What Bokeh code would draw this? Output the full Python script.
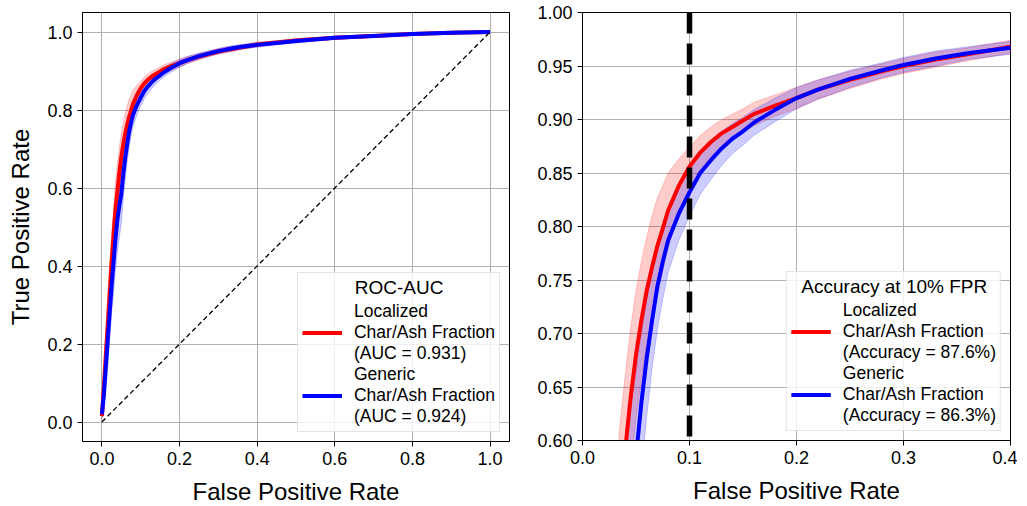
from bokeh.plotting import figure
from bokeh.layouts import row
from bokeh.models import (FixedTicker, NumeralTickFormatter, Legend, LegendItem,
                          Range1d, ColumnDataSource, Span)
from bokeh.embed import file_html
from bokeh.resources import INLINE

# ---------------- data ----------------
fpr = [0.0, 0.005, 0.01, 0.015, 0.02, 0.025, 0.03, 0.035, 0.04, 0.045, 0.05, 0.055,
       0.06, 0.065, 0.07, 0.075, 0.08, 0.09, 0.1, 0.11, 0.12, 0.13, 0.14, 0.15, 0.16,
       0.18, 0.2, 0.22, 0.25, 0.28, 0.3, 0.33, 0.36, 0.4, 0.45, 0.5, 0.6, 0.7, 0.8, 0.9, 1.0]
tpr_localized = [0.015, 0.09, 0.17, 0.25, 0.33, 0.41, 0.48, 0.545, 0.592, 0.64, 0.68, 0.712,
                 0.740, 0.762, 0.782, 0.798, 0.815, 0.838, 0.856, 0.869, 0.879, 0.887, 0.893,
                 0.899, 0.905, 0.913, 0.920, 0.928, 0.937, 0.945, 0.950, 0.956, 0.961, 0.968,
                 0.973, 0.978, 0.985, 0.990, 0.995, 0.998, 1.0]
err_localized = [0.01, 0.05, 0.06, 0.07, 0.07, 0.07, 0.07, 0.07, 0.07, 0.065, 0.06, 0.055,
                 0.05, 0.048, 0.045, 0.04, 0.035, 0.025, 0.018, 0.016, 0.014, 0.013, 0.012,
                 0.011, 0.011, 0.01, 0.01, 0.009, 0.008, 0.007, 0.007, 0.007, 0.006, 0.006,
                 0.005, 0.005, 0.004, 0.003, 0.002, 0.001, 0.0]
tpr_generic = [0.02, 0.07, 0.14, 0.21, 0.28, 0.35, 0.41, 0.47, 0.52, 0.555, 0.585, 0.635,
               0.677, 0.712, 0.744, 0.767, 0.787, 0.812, 0.832, 0.850, 0.862, 0.873, 0.882,
               0.889, 0.897, 0.909, 0.920, 0.928, 0.938, 0.946, 0.951, 0.957, 0.962, 0.967,
               0.972, 0.977, 0.985, 0.990, 0.995, 0.998, 1.0]
err_generic = [0.01, 0.05, 0.06, 0.07, 0.07, 0.07, 0.08, 0.08, 0.08, 0.08, 0.078, 0.065,
               0.055, 0.045, 0.04, 0.035, 0.03, 0.025, 0.022, 0.02, 0.018, 0.016, 0.014,
               0.013, 0.012, 0.011, 0.01, 0.009, 0.008, 0.007, 0.007, 0.007, 0.006, 0.006,
               0.005, 0.005, 0.004, 0.003, 0.002, 0.001, 0.0]
chance = [0.0, 1.0]
threshold_fpr = 0.1

left_title = "ROC-AUC"
left_labels = [["Localized", "Char/Ash Fraction", "(AUC = 0.931)"],
               ["Generic", "Char/Ash Fraction", "(AUC = 0.924)"]]
right_title = "Accuracy at 10% FPR"
right_labels = [["Localized", "Char/Ash Fraction", "(Accuracy = 87.6%)"],
                ["Generic", "Char/Ash Fraction", "(Accuracy = 86.3%)"]]

left_ticks = [0.0, 0.2, 0.4, 0.6, 0.8, 1.0]
right_xticks = [0.0, 0.1, 0.2, 0.3, 0.4]
right_yticks = [0.60, 0.65, 0.70, 0.75, 0.80, 0.85, 0.90, 0.95, 1.00]

FONT = "Liberation Sans"
NBSP = "\u00a0"

src = ColumnDataSource(dict(
    fpr=fpr,
    loc=tpr_localized,
    loc_lo=[t - e for t, e in zip(tpr_localized, err_localized)],
    loc_hi=[t + e for t, e in zip(tpr_localized, err_localized)],
    gen=tpr_generic,
    gen_lo=[t - e for t, e in zip(tpr_generic, err_generic)],
    gen_hi=[t + e for t, e in zip(tpr_generic, err_generic)],
))


def style(p):
    p.background_fill_color = "white"
    p.border_fill_color = "white"
    p.outline_line_color = "black"
    p.outline_line_width = 1
    p.outline_line_alpha = 1
    for ax in (p.xaxis, p.yaxis):
        ax.axis_line_color = "black"
        ax.major_tick_line_color = "black"
        ax.major_tick_out = 5
        ax.major_tick_in = 0
        ax.minor_tick_line_color = None
        ax.major_label_text_font = FONT
        ax.major_label_text_font_size = "18px"
        ax.major_label_text_color = "black"
        ax.major_label_standoff = 5
        ax.axis_label_text_font = FONT
        ax.axis_label_text_font_size = "24px"
        ax.axis_label_text_font_style = "normal"
        ax.axis_label_text_color = "black"
        ax.axis_label_standoff = 10
    for g in (p.xgrid, p.ygrid):
        g.grid_line_color = "#b0b0b0"
        g.grid_line_width = 1


def draw_curves(p):
    p.varea(x="fpr", y1="loc_lo", y2="loc_hi", source=src, fill_color="red", fill_alpha=0.2)
    p.line(x="fpr", y="loc_lo", source=src, line_color="red", line_alpha=0.2, line_width=1)
    p.line(x="fpr", y="loc_hi", source=src, line_color="red", line_alpha=0.2, line_width=1)
    p.varea(x="fpr", y1="gen_lo", y2="gen_hi", source=src, fill_color="blue", fill_alpha=0.2)
    p.line(x="fpr", y="gen_lo", source=src, line_color="blue", line_alpha=0.2, line_width=1)
    p.line(x="fpr", y="gen_hi", source=src, line_color="blue", line_alpha=0.2, line_width=1)
    r1 = p.line(x="fpr", y="loc", source=src, line_color="red", line_width=4)
    r2 = p.line(x="fpr", y="gen", source=src, line_color="blue", line_width=4)
    return r1, r2


def add_legend(p, renderers, title, labels, title_indent):
    # one legend row per text line; the swatch sits on the middle line of each entry
    items = []
    for r, lines in zip(renderers, labels):
        items.append(LegendItem(label=lines[0], renderers=[]))
        items.append(LegendItem(label=lines[1], renderers=[r]))
        items.append(LegendItem(label=lines[2], renderers=[]))
    # non-breaking spaces push the title towards the centre of the box
    leg = Legend(items=items, location="bottom_right", title=NBSP * title_indent + title)
    leg.title_text_font = FONT
    leg.title_text_font_size = "19px"
    leg.title_text_font_style = "normal"
    leg.title_text_color = "black"
    leg.title_standoff = 2
    leg.label_text_font = FONT
    leg.label_text_font_size = "17.5px"
    leg.label_text_color = "black"
    leg.label_height = 17
    leg.glyph_height = 17
    leg.glyph_width = 40
    leg.label_standoff = 12
    leg.padding = 4
    leg.spacing = 0
    leg.margin = 9
    leg.border_line_color = "#cccccc"
    leg.background_fill_alpha = 0.8
    p.add_layout(leg)


# ---------------- left panel ----------------
p1 = figure(frame_width=427, frame_height=429, output_backend="svg", toolbar_location=None,
            x_range=Range1d(-0.05, 1.05), y_range=Range1d(-0.05, 1.05),
            min_border_left=82, min_border_right=9, min_border_top=11, min_border_bottom=60,
            x_axis_label="False Positive Rate", y_axis_label="True Positive Rate")
style(p1)
p1.xaxis.ticker = FixedTicker(ticks=left_ticks)
p1.yaxis.ticker = FixedTicker(ticks=left_ticks)
p1.xaxis.formatter = NumeralTickFormatter(format="0.0")
p1.yaxis.formatter = NumeralTickFormatter(format="0.0")
a1, b1 = draw_curves(p1)
p1.line(chance, chance, line_color="black", line_width=1.3, line_dash="5 3")
add_legend(p1, [a1, b1], left_title, left_labels, 10)

# ---------------- right panel ----------------
p2 = figure(frame_width=428, frame_height=428, output_backend="svg", toolbar_location=None,
            x_range=Range1d(0.0, 0.4), y_range=Range1d(0.6, 1.0),
            min_border_left=64, min_border_right=7, min_border_top=12, min_border_bottom=60,
            x_axis_label="False Positive Rate")
style(p2)
p2.xaxis.ticker = FixedTicker(ticks=right_xticks)
p2.yaxis.ticker = FixedTicker(ticks=right_yticks)
p2.xaxis.formatter = NumeralTickFormatter(format="0.0")
p2.yaxis.formatter = NumeralTickFormatter(format="0.00")
a2, b2 = draw_curves(p2)
p2.add_layout(Span(location=threshold_fpr, dimension="height", line_color="black",
                   line_width=5.5, line_dash="21 10"))
add_legend(p2, [a2, b2], right_title, right_labels, 2)

layout = row(p1, p2)
open("out.html", "w").write(file_html(layout, INLINE))
